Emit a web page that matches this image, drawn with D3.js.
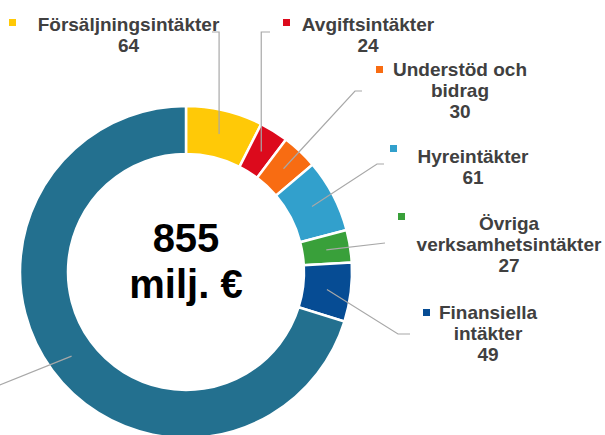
<!DOCTYPE html>
<html>
<head>
<meta charset="utf-8">
<script src="https://cdn.jsdelivr.net/npm/d3@7"></script>
<style>
  html, body { margin: 0; padding: 0; background: #ffffff; }
  svg { display: block; }
</style>
</head>
<body>
<svg id="chart" width="605" height="435"></svg>
<script>
// ---- data ----
const categories = ["Försäljningsintäkter", "Avgiftsintäkter", "Understöd och bidrag", "Hyreintäkter", "Övriga verksamhetsintäkter", "Finansiella intäkter", "Övriga"];
const values = [64, 24, 30, 61, 27, 49, 600];
const labelLines = [
  ["Försäljningsintäkter"],
  ["Avgiftsintäkter"],
  ["Understöd och", "bidrag"],
  ["Hyreintäkter"],
  ["Övriga", "verksamhetsintäkter"],
  ["Finansiella", "intäkter"],
  null
];
const totalLines = ["855", "milj. €"];

// ---- styles / layout ----
const colors = ["#FFC907", "#DC0A1C", "#F86C12", "#32A0CC", "#39A03A", "#064C94", "#23708F"];
const cx = 186, cy = 272, rIn = 118, rOut = 166;
// label layout: text center x, first baseline y, marker top-left, leader start, elbow
const layout = [
  { tx: 128.5, ty: 31, mx: 9,   my: 19,  ls: [212, 32], elbowV: true },
  { tx: 368,   ty: 31, mx: 283, my: 19,  ls: [270, 32], elbowV: true },
  { tx: 460,   ty: 76, mx: 376, my: 66,  ls: [362, 91], elbow: [355, 91] },
  { tx: 473,   ty: 163, mx: 390, my: 145, ls: [384, 164], elbow: [377, 164] },
  { tx: 509,   ty: 230, mx: 398, my: 213, ls: [385, 243] },
  { tx: 488,   ty: 319, mx: 423, my: 309, ls: [410, 334], elbow: [398, 334] },
  { ls: [-30, 397] }
];
const lineH = 21;

const svg = d3.select("#chart");
const g = svg.append("g").attr("transform", `translate(${cx},${cy})`);

const pie = d3.pie().sort(null).value(d => d)(values);
const arc = d3.arc().innerRadius(rIn).outerRadius(rOut);
const midArc = d3.arc().innerRadius((rIn + rOut) / 2).outerRadius((rIn + rOut) / 2);

g.selectAll("path.slice")
  .data(pie)
  .join("path")
  .attr("class", "slice")
  .attr("d", arc)
  .attr("fill", (d, i) => colors[i])
  .attr("stroke", "#ffffff")
  .attr("stroke-width", 2.5);

// leader lines
const line = d3.line();
pie.forEach((d, i) => {
  const c = midArc.centroid(d);
  const cAbs = [c[0] + cx, c[1] + cy];
  const L = layout[i];
  let pts;
  if (L.elbowV) pts = [L.ls, [cAbs[0], L.ls[1]], cAbs];
  else if (L.elbow) pts = [L.ls, L.elbow, cAbs];
  else pts = [L.ls, cAbs];
  svg.append("path")
    .attr("d", line(pts))
    .attr("fill", "none")
    .attr("stroke", "#A8A8A8")
    .attr("stroke-width", 1.2);
});

// labels
const font = "'Liberation Sans', Arial, sans-serif";
pie.forEach((d, i) => {
  const L = layout[i];
  if (!labelLines[i]) return;
  const lines = labelLines[i].concat([String(values[i])]);
  svg.append("rect")
    .attr("x", L.mx).attr("y", L.my)
    .attr("width", 7).attr("height", 7)
    .attr("fill", colors[i]);
  const t = svg.append("text")
    .attr("text-anchor", "middle")
    .attr("font-family", font)
    .attr("font-weight", "bold")
    .attr("font-size", 19)
    .attr("fill", "#404040");
  lines.forEach((s, k) => {
    t.append("tspan").attr("x", L.tx).attr("y", L.ty + k * lineH).text(s);
  });
});

// center total
const ct = svg.append("text")
  .attr("text-anchor", "middle")
  .attr("font-family", font)
  .attr("font-weight", "bold")
  .attr("font-size", 40)
  .attr("fill", "#000000");
totalLines.forEach((s, k) => {
  ct.append("tspan").attr("x", cx).attr("y", 252 + k * 46).text(s);
});
</script>
</body>
</html>
